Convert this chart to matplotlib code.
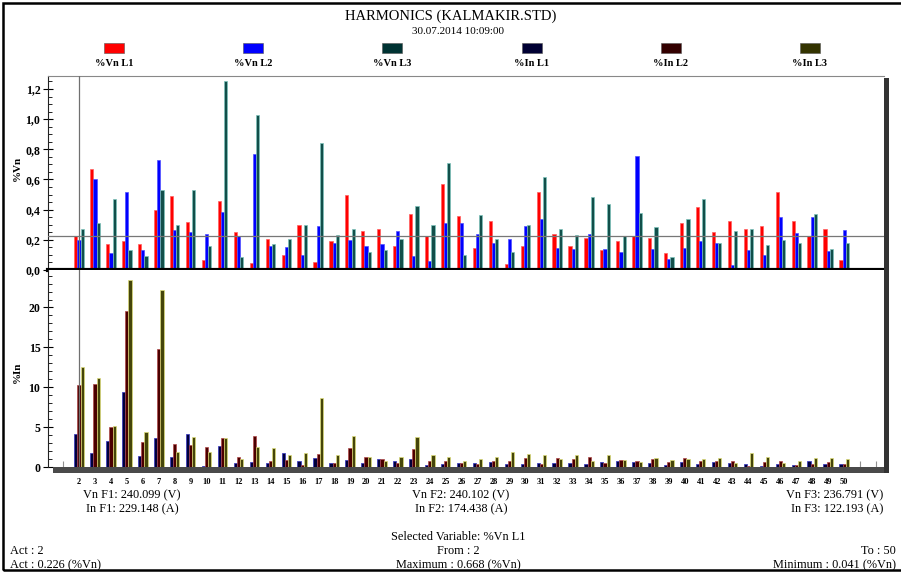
import numpy as np
import matplotlib
matplotlib.use("Agg")
import matplotlib.pyplot as plt
from matplotlib.patches import Rectangle
from matplotlib.ticker import MultipleLocator, FixedLocator, FuncFormatter

plt.rcParams['font.family'] = ['Liberation Serif', 'DejaVu Serif']

# harmonic orders 2..50
harm = list(range(2, 51))

# %Vn
vn_l1 = [0.226, 0.668, 0.175, 0.195, 0.175, 0.40, 0.49, 0.316, 0.066, 0.455,
         0.254, 0.048, 0.203, 0.10, 0.30, 0.053, 0.192, 0.50, 0.256, 0.274,
         0.16, 0.37, 0.226, 0.572, 0.36, 0.146, 0.327, 0.041, 0.16, 0.52,
         0.24, 0.16, 0.214, 0.13, 0.195, 0.226, 0.214, 0.11, 0.31, 0.418,
         0.25, 0.323, 0.274, 0.29, 0.52, 0.323, 0.226, 0.274, 0.066]
vn_l2 = [0.20, 0.60, 0.115, 0.52, 0.13, 0.727, 0.265, 0.254, 0.236, 0.387,
         0.227, 0.767, 0.16, 0.155, 0.097, 0.294, 0.179, 0.20, 0.16, 0.172,
         0.256, 0.093, 0.062, 0.31, 0.31, 0.24, 0.18, 0.205, 0.294, 0.338,
         0.148, 0.137, 0.236, 0.141, 0.12, 0.756, 0.141, 0.071, 0.143, 0.19,
         0.18, 0.031, 0.13, 0.10, 0.351, 0.243, 0.35, 0.126, 0.265]
vn_l3 = [0.27, 0.31, 0.47, 0.13, 0.093, 0.53, 0.30, 0.53, 0.16, 1.25,
         0.088, 1.03, 0.17, 0.203, 0.30, 0.84, 0.23, 0.27, 0.12, 0.133,
         0.208, 0.426, 0.30, 0.71, 0.097, 0.365, 0.205, 0.12, 0.30, 0.615,
         0.27, 0.232, 0.486, 0.435, 0.227, 0.378, 0.283, 0.088, 0.34, 0.47,
         0.182, 0.256, 0.274, 0.166, 0.20, 0.18, 0.37, 0.141, 0.18]

# %In
in_l1 = [4.1, 1.8, 3.3, 9.4, 1.4, 3.6, 1.3, 4.2, 0.15, 2.6,
         0.5, 0.6, 0.55, 1.7, 0.8, 1.1, 0.5, 0.9, 0.55, 1.0,
         0.7, 0.95, 0.3, 0.4, 0.45, 0.55, 0.6, 0.4, 0.4, 0.5,
         0.45, 0.5, 0.4, 0.6, 0.7, 0.6, 0.45, 0.3, 0.6, 0.4,
         0.6, 0.55, 0.4, 0.15, 0.4, 0.2, 0.7, 0.4, 0.4]
in_l2 = [10.3, 10.45, 5.06, 19.6, 3.1, 14.8, 2.9, 2.8, 2.5, 3.6,
         1.2, 3.9, 0.7, 0.9, 0.3, 1.6, 0.5, 2.4, 1.3, 1.0,
         0.5, 2.2, 0.7, 0.7, 0.45, 0.4, 0.8, 0.7, 1.1, 0.4,
         1.1, 1.0, 1.3, 0.5, 0.9, 0.8, 1.05, 0.6, 1.1, 0.7,
         0.7, 0.7, 0.1, 0.6, 0.7, 0.3, 0.4, 0.6, 0.4]
in_l3 = [12.6, 11.1, 5.1, 23.5, 4.4, 22.2, 1.9, 3.7, 1.9, 3.6,
         0.95, 2.55, 2.4, 1.5, 1.7, 8.6, 1.5, 3.9, 1.3, 0.7,
         1.2, 3.8, 1.45, 1.2, 0.8, 0.95, 1.2, 1.9, 1.6, 1.45,
         1.05, 1.45, 0.8, 1.45, 0.9, 0.6, 1.1, 0.9, 0.95, 1.0,
         1.1, 0.5, 1.75, 1.3, 0.5, 0.7, 1.1, 1.1, 1.0]

vn_names = ['%Vn L1', '%Vn L2', '%Vn L3']
in_names = ['%In L1', '%In L2', '%In L3']
vn_face = ['#ff0000', '#0000ff', '#124f4a']
vn_edge = ['#ff6060', '#5050ff', '#7cc4bc']
in_face = ['#00003a', '#4a0000', '#45450a']
in_edge = ['#3030c0', '#b04848', '#dede78']
legend_face = ['#ff0000', '#0000ff', '#003333', '#000033', '#330000', '#333300']

selected_value = 0.226
W, H = 901, 573


def fx(px):
    return px / W


def fy(py):
    return 1 - py / H


fig = plt.figure(figsize=(W / 100, H / 100), dpi=100)

# outer frame
fig.patches.append(Rectangle((fx(3), fy(570)), 1.2, (567) / H, transform=fig.transFigure,
                             fill=False, edgecolor='black', linewidth=1.8))

fig.text(fx(451), fy(16), 'HARMONICS (KALMAKIR.STD)', ha='center', va='center', fontsize=10.5)
fig.text(fx(458), fy(32), '30.07.2014 10:09:00', ha='center', va='center', fontsize=8)

# legend row
for i, name in enumerate(vn_names + in_names):
    cx = 114 + i * 139.2
    fig.patches.append(Rectangle((fx(cx - 10), fy(53)), 20 / W, 10 / H, transform=fig.transFigure,
                                 facecolor=legend_face[i], edgecolor='#555555', linewidth=0.4))
    fig.text(fx(cx), fy(63), name, ha='center', va='center', fontsize=7.5, fontweight='bold')

left, right = 48, 884
ax1 = fig.add_axes([fx(left), fy(270), (right - left) / W, (270 - 76) / H])
ax2 = fig.add_axes([fx(left), fy(467), (right - left) / W, (467 - 270) / H])

x = np.array(harm)
bw = 0.2
for k, vals in enumerate([vn_l1, vn_l2, vn_l3]):
    ax1.bar(x + (k - 1) * bw, vals, width=bw, color=vn_face[k], edgecolor=vn_edge[k],
            linewidth=0.5, zorder=3)
for k, vals in enumerate([in_l1, in_l2, in_l3]):
    ax2.bar(x + (k - 1) * bw, vals, width=bw, color=in_face[k], edgecolor=in_edge[k],
            linewidth=0.5, zorder=3)

for ax in (ax1, ax2):
    ax.set_xlim(0.05, 52.5)
    ax.spines['right'].set_visible(False)
    ax.spines['bottom'].set_visible(False)
    ax.spines['left'].set_color('#222222')
    ax.tick_params(axis='y', which='major', direction='inout', length=7, width=0.8,
                   labelsize=8.5, pad=2)
    ax.tick_params(axis='y', which='minor', direction='in', length=3, width=0.6)
    ax.axvline(2, color='#707070', linewidth=0.9, zorder=4)

ax1.set_ylim(0, 1.286)
ax1.yaxis.set_major_locator(FixedLocator([0, 0.2, 0.4, 0.6, 0.8, 1.0, 1.2]))
ax1.yaxis.set_minor_locator(MultipleLocator(0.05))
ax1.yaxis.set_major_formatter(FuncFormatter(lambda v, p: f'{v:.1f}'.replace('.', ',')))
ax1.spines['top'].set_color('#888888')
ax1.set_xticks([])
ax1.axhline(selected_value, color='#777777', linewidth=0.9, zorder=4)
ax1.axhline(0, color='black', linewidth=3, zorder=5, clip_on=False)

ax2.set_ylim(0, 24.7)
ax2.yaxis.set_major_locator(FixedLocator([0, 5, 10, 15, 20]))
ax2.yaxis.set_minor_locator(MultipleLocator(1))
ax2.spines['top'].set_visible(False)
ax2.set_xticks(harm)
ax2.set_xticklabels([str(h) for h in harm], fontsize=6, fontweight='bold')
ax2.tick_params(axis='x', length=0, pad=8)
ax2.vlines([1, 51, 52], 0, 0.7, color='#909090', linewidth=0.8)

for ax in (ax1, ax2):
    for lab in ax.get_yticklabels():
        lab.set_fontweight('bold')

fig.text(fx(17), fy(168), '%Vn', rotation=90, ha='center', va='center', fontsize=8, fontweight='bold')
fig.text(fx(17), fy(372), '%In', rotation=90, ha='center', va='center', fontsize=8, fontweight='bold')

# 3d-like floor and shadow
fig.patches.append(Rectangle((fx(53), fy(473)), (889 - 53) / W, 6 / H, transform=fig.transFigure,
                             facecolor='#4a4a4a', edgecolor='none', zorder=6))
fig.patches.append(Rectangle((fx(884), fy(473)), 5 / W, (473 - 78) / H, transform=fig.transFigure,
                             facecolor='#333333', edgecolor='none', zorder=6))

fs = 8.8
fig.text(fx(132), fy(495), 'Vn F1: 240.099 (V)', ha='center', va='center', fontsize=fs)
fig.text(fx(132), fy(509), 'In F1: 229.148 (A)', ha='center', va='center', fontsize=fs)
fig.text(fx(461), fy(495), 'Vn F2: 240.102 (V)', ha='center', va='center', fontsize=fs)
fig.text(fx(461), fy(509), 'In F2: 174.438 (A)', ha='center', va='center', fontsize=fs)
fig.text(fx(883), fy(495), 'Vn F3: 236.791 (V)', ha='right', va='center', fontsize=fs)
fig.text(fx(883), fy(509), 'In F3: 122.193 (A)', ha='right', va='center', fontsize=fs)

fig.text(fx(458), fy(537), 'Selected Variable: %Vn L1', ha='center', va='center', fontsize=fs)
fig.text(fx(10), fy(551), 'Act : 2', ha='left', va='center', fontsize=fs)
fig.text(fx(458), fy(551), 'From : 2', ha='center', va='center', fontsize=fs)
fig.text(fx(896), fy(551), 'To : 50', ha='right', va='center', fontsize=fs)
fig.text(fx(10), fy(565), 'Act : 0.226 (%Vn)', ha='left', va='center', fontsize=fs)
fig.text(fx(458), fy(565), 'Maximum : 0.668 (%Vn)', ha='center', va='center', fontsize=fs)
fig.text(fx(896), fy(565), 'Minimum : 0.041 (%Vn)', ha='right', va='center', fontsize=fs)

fig.savefig('out.png', dpi=100)
